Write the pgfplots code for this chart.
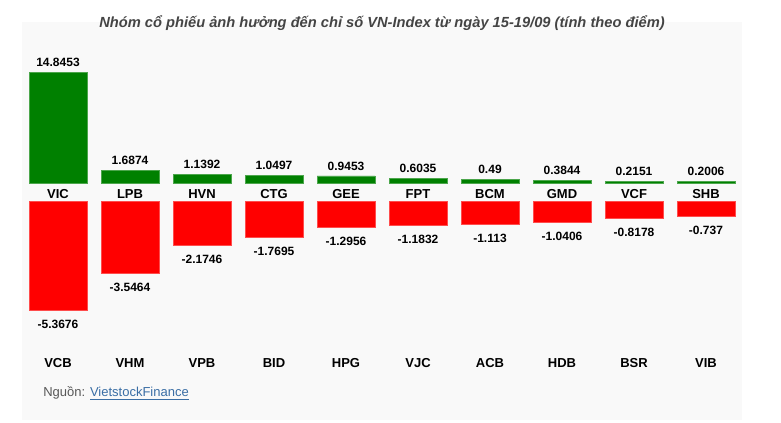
\documentclass[border=0pt]{standalone}
\usepackage{fontspec}
\setmainfont{Liberation Sans}
\usepackage{pgfplots}
\usepackage{pgfplotstable}
\pgfplotsset{compat=1.18}

\definecolor{panel}{HTML}{F9F9F9}
\definecolor{upgreen}{HTML}{008000}
\definecolor{downred}{HTML}{FF0000}
\definecolor{titlegray}{HTML}{444444}
\definecolor{linkblue}{HTML}{3A6EA5}

% tang diem
\pgfplotstableread{
x name val
0 VIC 14.8453
1 LPB 1.6874
2 HVN 1.1392
3 CTG 1.0497
4 GEE 0.9453
5 FPT 0.6035
6 BCM 0.49
7 GMD 0.3844
8 VCF 0.2151
9 SHB 0.2006
}\tup

% giam diem
\pgfplotstableread{
x name val
0 VCB -5.3676
1 VHM -3.5464
2 VPB -2.1746
3 BID -1.7695
4 HPG -1.2956
5 VJC -1.1832
6 ACB -1.113
7 HDB -1.0406
8 BSR -0.8178
9 VIB -0.737
}\tdown

\pgfplotsset{
  halfaxis/.style={
    scale only axis,
    width=540pt,
    xmin=-0.5, xmax=9.5,
    axis line style={draw=none},
    major tick length=0pt,
    ytick=\empty,
    xtick=data,
    clip=false,
    xticklabel style={font=\fontsize{9.75}{12}\selectfont\bfseries,
      anchor=north, inner sep=0pt, text=black},
    nodes near coords={\pgfmathprintnumber[fixed,precision=4,assume math mode=true]{\pgfplotspointmeta}},
  },
}

\begin{document}
\begin{tikzpicture}
\fill[white] (0,0) rectangle (585.75pt,-317.25pt);
\fill[panel] (16.5pt,-16.5pt) rectangle (556.5pt,-315pt);

\node[font=\fontsize{11}{13}\selectfont\bfseries\itshape, text=titlegray]
  at (286.5pt,-17pt) {Nhóm cổ phiếu ảnh hưởng đến chỉ số VN-Index từ ngày 15-19/09 (tính theo điểm)};

\begin{axis}[halfaxis,
  at={(16.5pt,-137.25pt)}, anchor=south west,
  height=89.5pt, ymin=0, ymax=16,
  xticklabels from table={\tup}{name},
  typeset ticklabels with strut=false,
  x tick label style={yshift=-3.2pt},
  every node near coord/.append style={font=\fontsize{9}{11}\selectfont\bfseries,
    anchor=south, inner sep=0pt, yshift=4pt, text=black},
]
\addplot[ybar, bar width=43.5pt, fill=upgreen, draw=upgreen!70!white, line width=0.6pt]
  table[x=x, y=val, meta=val] {\tup};
\end{axis}

\begin{axis}[halfaxis,
  at={(16.5pt,-151.25pt)}, anchor=north west,
  height=115.1pt, ymin=-7.6, ymax=0,
  xticklabels from table={\tdown}{name},
  x tick label style={yshift=-2.6pt},
  every node near coord/.append style={font=\fontsize{9}{11}\selectfont\bfseries,
    anchor=north, inner sep=0pt, yshift=-7pt, text=black},
]
\addplot[ybar, bar width=43.5pt, fill=downred, draw=downred!70!white, line width=0.6pt]
  table[x=x, y=val, meta=val] {\tdown};
\end{axis}

\node[anchor=west, font=\fontsize{9.75}{12}\selectfont, inner sep=0pt]
  at (32.25pt,-295pt) {\textcolor{titlegray!90}{Nguồn: }\textcolor{linkblue}{\underline{VietstockFinance}}};
\end{tikzpicture}
\end{document}
